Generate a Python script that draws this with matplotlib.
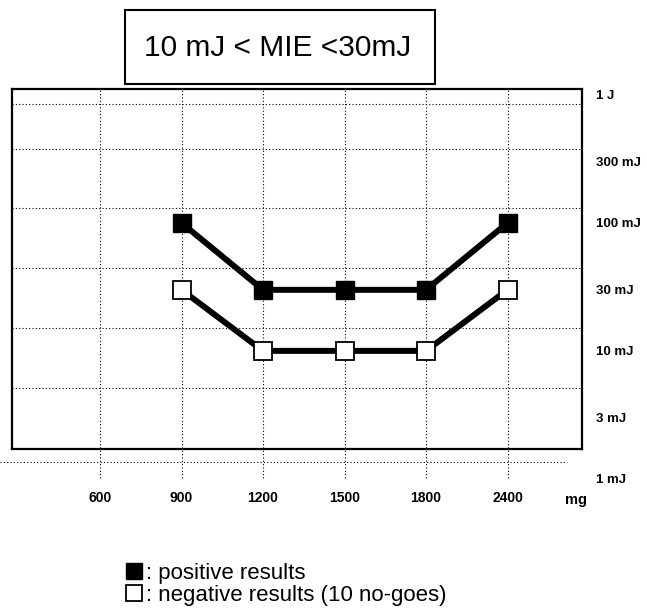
import numpy as np
import matplotlib.pyplot as plt
from matplotlib.patches import Rectangle
from matplotlib.lines import Line2D
import matplotlib.transforms as mtransforms

plt.rcParams['font.family'] = ['Liberation Sans', 'DejaVu Sans']

# data
doses = ['600', '900', '1200', '1500', '1800', '2400']
pos_doses = ['900', '1200', '1500', '1800', '2400']
positive = [100, 30, 30, 30, 100]      # mJ
negative = [30, 10, 10, 10, 30]        # mJ
energy_ticks = [1, 3, 10, 30, 100, 300, 1000]
energy_labels = ['1 mJ', '3 mJ', '10 mJ', '30 mJ', '100 mJ', '300 mJ', '1 J']
title = '10 mJ < MIE <30mJ'

# dotted grid levels as drawn in the original (mJ)
grid_y = [851, 378, 131, 44.5, 15.1, 5.14]
grid_below = 1.36

xpos = np.arange(len(doses))
px = [xpos[doses.index(d)] for d in pos_doses]

fig = plt.figure(figsize=(6.47, 6.15), dpi=100)
ax = fig.add_axes([12/647, 1-449/615, 570/647, 360/615])
ax.set_yscale('log')
ax.set_xlim(-1.08, 5.914)
ax.set_ylim(1.71, 1114)

dot = (0, (1, 2))
for y in grid_y:
    ax.axhline(y, color='black', lw=0.8, ls=dot, zorder=1)
ax.plot([-1.227, 5.73], [grid_below, grid_below], color='black', lw=0.8, ls=dot,
        clip_on=False, zorder=1)
ax.vlines(xpos, 1.02, 1114, colors='black', lw=0.8, linestyles=dot, clip_on=False, zorder=1)

ax.plot(px, positive, color='black', lw=4.3, marker='s', ms=12.5,
        mfc='black', mec='black', zorder=3)
ax.plot(px, negative, color='black', lw=4.3, marker='s', ms=12.5,
        mfc='white', mec='black', mew=1.3, zorder=3)

for s in ax.spines.values():
    s.set_linewidth(1.6)
ax.set_xticks([])
ax.set_yticks([])
ax.minorticks_off()

# right hand energy labels
tr = mtransforms.blended_transform_factory(ax.transAxes, ax.transData)
for v, lab in zip(energy_ticks, energy_labels):
    ax.text(1.025, v, lab, transform=tr, ha='left', va='center_baseline',
            fontsize=9.5, fontweight='bold', clip_on=False)

# bottom dose labels
trx = mtransforms.blended_transform_factory(ax.transData, ax.transAxes)
for x, lab in zip(xpos, doses):
    ax.text(x, -0.136, lab, transform=trx, ha='center', va='center',
            fontsize=10, fontweight='bold', clip_on=False)
ax.text(576/647, 1-500/615, 'mg', transform=fig.transFigure, ha='center', va='center',
        fontsize=10.5, fontweight='bold')

# title box
fig.add_artist(Rectangle((125/647, 1-84/615), 310/647, 74/615, transform=fig.transFigure,
                         fill=False, ec='black', lw=1.5))
fig.text(278/647, 1-48/615, title, ha='center', va='center', fontsize=21.5)

# legend
fig.add_artist(Line2D([134/647], [1-571/615], marker='s', ms=12, mfc='black', mec='black',
                      transform=fig.transFigure))
fig.add_artist(Line2D([134/647], [1-593/615], marker='s', ms=12, mfc='white', mec='black',
                      mew=1.3, transform=fig.transFigure))
fig.text(146/647, 1-573/615, ': positive results', ha='left', va='center', fontsize=16)
fig.text(146/647, 1-595/615, ': negative results (10 no-goes)', ha='left', va='center', fontsize=16)

plt.savefig('out.png', dpi=100)
